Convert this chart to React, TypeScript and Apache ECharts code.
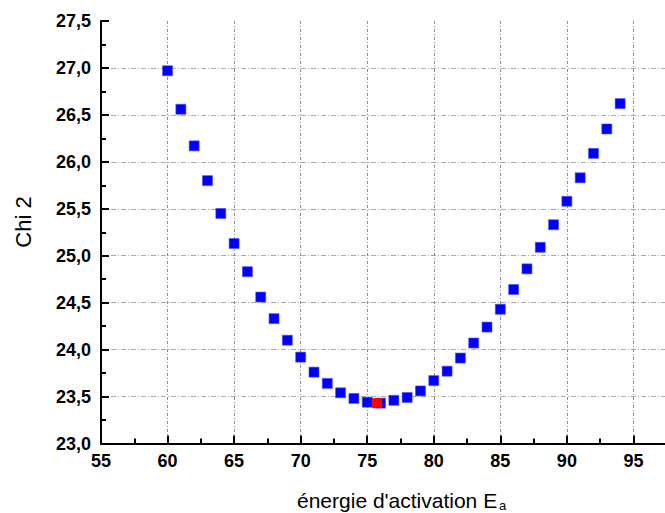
import React, { useEffect, useRef } from "react";
import * as echarts from "echarts";

const energies = [60, 61, 62, 63, 64, 65, 66, 67, 68, 69, 70, 71, 72, 73, 74, 75, 76, 77, 78, 79, 80, 81, 82, 83, 84, 85, 86, 87, 88, 89, 90, 91, 92, 93, 94];
const chi2 = [26.97, 26.56, 26.17, 25.8, 25.45, 25.13, 24.83, 24.56, 24.33, 24.1, 23.92, 23.76, 23.64, 23.54, 23.48, 23.44, 23.43, 23.46, 23.49, 23.56, 23.67, 23.77, 23.91, 24.07, 24.24, 24.43, 24.64, 24.86, 25.09, 25.33, 25.58, 25.83, 26.09, 26.35, 26.62];
const minimumPoint = [75.74, 23.43];

const xTitle = "énergie d'activation E";
const xTitleSub = "a";
const yTitle = "Chi 2";

const FONT = '"Liberation Sans", Arial, sans-serif';

export default function App() {
  const ref = useRef<HTMLDivElement>(null);
  useEffect(() => {
    if (!ref.current) return;
    const chart = echarts.init(ref.current, null, { renderer: "svg" });
    chart.setOption({
      animation: false,
      backgroundColor: "#ffffff",
      grid: { left: 101, right: 0, top: 21, bottom: 69.5, containLabel: false },
      xAxis: {
        type: "value",
        min: 55,
        max: 100,
        interval: 5,
        axisLine: { show: true, onZero: false, lineStyle: { color: "#000", width: 2 } },
        axisTick: { show: true, inside: true, length: 8, lineStyle: { color: "#000", width: 2 } },
        minorTick: { show: true, splitNumber: 2, length: 5, lineStyle: { color: "#000", width: 2 } },
        axisLabel: {
          show: true,
          margin: 8,
          color: "#000",
          fontSize: 18,
          fontWeight: "bold",
          fontFamily: FONT,
          formatter: (v: number) => (v <= 95 ? String(v) : ""),
        },
        splitLine: { show: true, showMinLine: false, showMaxLine: false, lineStyle: { color: "#8f8f8f", width: 1, type: [3, 2, 1, 2] } },
      },
      yAxis: {
        type: "value",
        min: 23,
        max: 27.5,
        interval: 0.5,
        axisLine: { show: true, onZero: false, lineStyle: { color: "#000", width: 2 } },
        axisTick: { show: true, inside: true, length: 8, lineStyle: { color: "#000", width: 2 } },
        minorTick: { show: true, splitNumber: 2, length: 5, lineStyle: { color: "#000", width: 2 } },
        axisLabel: {
          show: true,
          margin: 10,
          color: "#000",
          fontSize: 18,
          fontWeight: "bold",
          fontFamily: FONT,
          formatter: (v: number) => v.toFixed(1).replace(".", ","),
        },
        splitLine: { show: true, showMinLine: false, showMaxLine: false, lineStyle: { color: "#ababab", width: 1, type: [5, 2, 1, 2] } },
      },
      series: [
        {
          type: "scatter",
          symbol: "rect",
          symbolSize: 10,
          itemStyle: { color: "#0000ff", borderColor: "#4d4dff", borderWidth: 0.6, opacity: 1 },
          data: energies.map((e, i) => [e, chi2[i]]),
          z: 3,
        },
        {
          type: "scatter",
          symbol: "rect",
          symbolSize: 10,
          itemStyle: { color: "#ff0000", opacity: 1 },
          data: [minimumPoint],
          z: 4,
        },
      ],
      graphic: [
        {
          type: "text",
          x: 23,
          y: 222,
          rotation: Math.PI / 2,
          style: { text: yTitle, fill: "#000", font: `22px ${FONT}`, textAlign: "center", textVerticalAlign: "middle" },
        },
        {
          type: "text",
          x: 297,
          y: 500,
          style: { text: xTitle, fill: "#000", font: `21px ${FONT}`, textAlign: "left", textVerticalAlign: "middle" },
        },
        {
          type: "text",
          x: 499,
          y: 499,
          style: { text: xTitleSub, fill: "#000", font: `13px ${FONT}`, textAlign: "left", textVerticalAlign: "top" },
        },
      ],
    });
    return () => chart.dispose();
  }, []);
  return (
    <div style={{ position: "fixed", left: 0, top: 0, width: 665, height: 513, overflow: "hidden", background: "#fff" }}>
      <div ref={ref} style={{ width: 703, height: 513 }} />
    </div>
  );
}
